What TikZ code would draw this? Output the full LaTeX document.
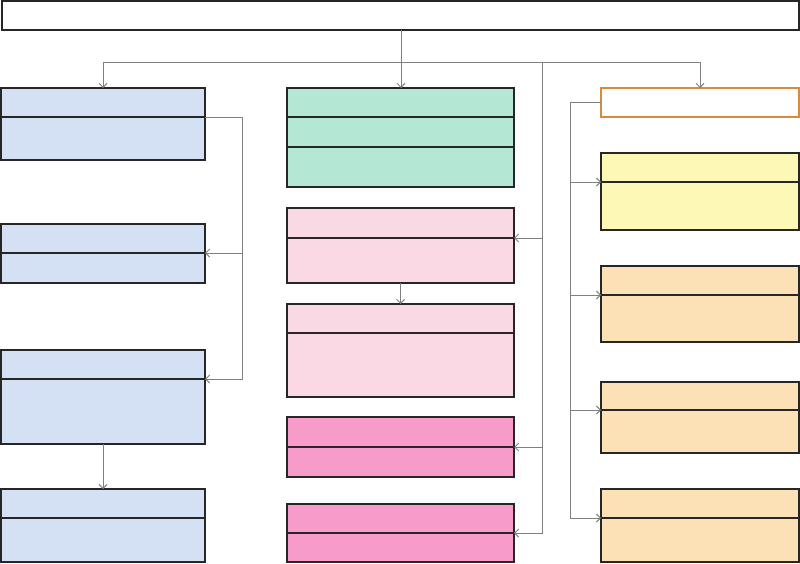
\documentclass[tikz,border=0pt]{standalone}
\usetikzlibrary{arrows.meta}
\definecolor{cblue}{HTML}{D4E1F5}
\definecolor{cgreen}{HTML}{B4E8D4}
\definecolor{clpink}{HTML}{FAD9E5}
\definecolor{cpink}{HTML}{F79BCB}
\definecolor{cyellow}{HTML}{FDF8B5}
\definecolor{ctan}{HTML}{FCE1B6}
\definecolor{corange}{HTML}{DA8A3C}
\definecolor{cconn}{HTML}{808080}
\tikzset{
  boxbase/.style={draw=black!85, line width=0.85pt, inner sep=0pt, outer sep=0pt},
  bluebox/.style={boxbase, fill=cblue},
  greenbox/.style={boxbase, fill=cgreen},
  lpinkbox/.style={boxbase, fill=clpink},
  pinkbox/.style={boxbase, fill=cpink},
  yellowbox/.style={boxbase, fill=cyellow},
  tanbox/.style={boxbase, fill=ctan},
  whitebox/.style={boxbase, fill=white},
  orangebox/.style={boxbase, draw=corange, fill=white},
  divline/.style={draw=black!85, line width=0.85pt},
  conn/.style={draw=cconn, line width=0.75pt, -{Straight Barb[length=3pt,width=6pt]}},
  connplain/.style={draw=cconn, line width=0.75pt},
}
\newcommand\mkbox[6]{\node[#6, minimum width={(#4-#2)*0.75pt}, minimum height={(#5-#3)*0.75pt}] (#1) at ({(#2+#4)/2},{(#3+#5)/2}) {};}
\newcommand\mkdiv[2]{\coordinate (#1-dw) at (#1.west |- 0,#2); \coordinate (#1-de) at (#1.east |- 0,#2); \draw[divline] (#1-dw) -- (#1-de);}
\begin{document}
\begin{tikzpicture}[x=0.75pt,y=-0.75pt]
\useasboundingbox (0,0) rectangle (800,564);
% top
\mkbox{top}{2}{1}{799}{30}{whitebox}
% left column
\mkbox{B1}{1}{88}{205}{160}{bluebox}
\mkdiv{B1}{117}
\mkbox{B2}{1}{224}{205}{283}{bluebox}
\mkdiv{B2}{253}
\mkbox{B3}{1}{350}{205}{444}{bluebox}
\mkdiv{B3}{379}
\mkbox{B4}{1}{489}{205}{562}{bluebox}
\mkdiv{B4}{518}
% middle column
\mkbox{G}{287}{88}{514}{187}{greenbox}
\mkdiv{G}{117}
\coordinate (G-dw2) at (G.west |- 0,147); \coordinate (G-de2) at (G.east |- 0,147);
\draw[divline] (G-dw2) -- (G-de2);
\mkbox{P1}{287}{208}{514}{283}{lpinkbox}
\mkdiv{P1}{238}
\mkbox{P2}{287}{304}{514}{397}{lpinkbox}
\mkdiv{P2}{333}
\mkbox{M1}{287}{417}{514}{477}{pinkbox}
\mkdiv{M1}{447}
\mkbox{M2}{287}{504}{514}{562}{pinkbox}
\mkdiv{M2}{533}
% right column
\mkbox{O}{601}{88}{799}{117}{orangebox}
\mkbox{Y}{601}{153}{799}{230}{yellowbox}
\mkdiv{Y}{182}
\mkbox{T1}{601}{266}{799}{342}{tanbox}
\mkdiv{T1}{295}
\mkbox{T2}{601}{382}{799}{453}{tanbox}
\mkdiv{T2}{410}
\mkbox{T3}{601}{489}{799}{562}{tanbox}
\mkdiv{T3}{518}
% connectors from top
\coordinate (j) at (401,62);
\coordinate (j2) at (542,62);
\draw[connplain] (top.south -| j) -- (j);
\draw[conn] (j) -| (B1.north);
\draw[conn] (j) -- (G.north -| j);
\draw[conn] (j) -| (O.north);
% middle bus
\draw[conn] (j2) |- (M2-de);
\draw[conn] (j2 |- P1-de) -- (P1-de);
\draw[conn] (j2 |- M1-de) -- (M1-de);
\draw[conn] (P1.south) -- (P2.north);
% left bus
\coordinate (k) at (242,117);
\draw[conn] (B1-de) -- (k) |- (B3-de);
\draw[conn] (k |- B2-de) -- (B2-de);
\draw[conn] (B3.south) -- (B4.north);
% right bus
\coordinate (r) at (O.west -| 570,0);
\draw[conn] (O.west) -- (r) |- (T3-dw);
\draw[conn] (r |- Y-dw) -- (Y-dw);
\draw[conn] (r |- T1-dw) -- (T1-dw);
\draw[conn] (r |- T2-dw) -- (T2-dw);
\end{tikzpicture}
\end{document}
